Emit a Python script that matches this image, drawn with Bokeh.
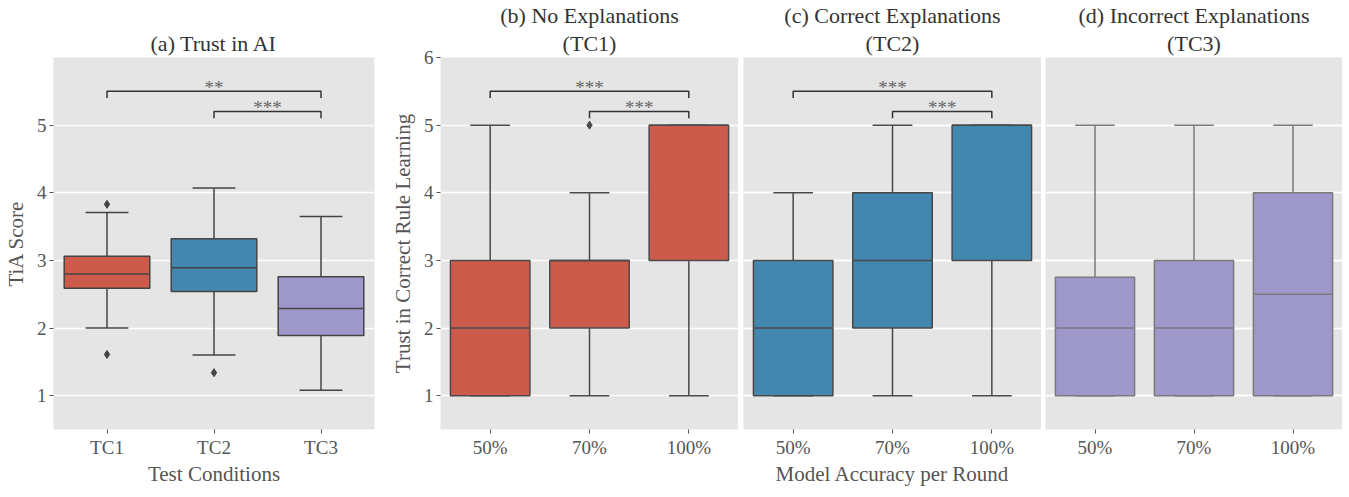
from bokeh.plotting import figure
from bokeh.models import Range1d, FixedTicker, Grid, Title
from bokeh.layouts import row
from bokeh.embed import file_html
from bokeh.resources import INLINE
from bokeh.core.properties import value

# ---------------- data ----------------
a_cats = ["TC1", "TC2", "TC3"]
a_q1 = [2.59, 2.54, 1.89]
a_med = [2.80, 2.89, 2.29]
a_q3 = [3.06, 3.32, 2.76]
a_lo = [2.00, 1.60, 1.08]
a_hi = [3.71, 4.07, 3.65]
a_out_cat = ["TC1", "TC1", "TC2"]
a_out_val = [3.83, 1.61, 1.34]

acc_cats = ["50%", "70%", "100%"]
b_q1 = [1, 2, 3]
b_med = [2, 3, 5]
b_q3 = [3, 3, 5]
b_lo = [1, 1, 1]
b_hi = [5, 4, 5]
b_out_cat = ["70%"]
b_out_val = [5]

c_q1 = [1, 2, 3]
c_med = [2, 3, 5]
c_q3 = [3, 4, 5]
c_lo = [1, 1, 1]
c_hi = [4, 5, 5]

d_q1 = [1, 1, 1]
d_med = [2, 2, 2.5]
d_q3 = [2.75, 3, 4]
d_lo = [1, 1, 1]
d_hi = [5, 5, 5]

# significance comparisons: (from, to, stars, height)
sig_a = [("TC1", "TC3", "**", 5.5), ("TC2", "TC3", "***", 5.2)]
sig_b = [("50%", "100%", "***", 5.5), ("70%", "100%", "***", 5.2)]
sig_c = [("50%", "100%", "***", 5.5), ("70%", "100%", "***", 5.2)]

titles = [" \n(a) Trust in AI", "(b) No Explanations\n(TC1)",
          "(c) Correct Explanations\n(TC2)", "(d) Incorrect Explanations\n(TC3)"]

# ---------------- style ----------------
FONT = "Liberation Serif"
RED, BLUE, PURPLE = "#CD5B4B", "#4487AE", "#9E98CA"
BG = "#E5E5E5"
TXT = "#555555"
FRAME_H = 372
Y0, Y1 = 0.5, 6.0
PXU = FRAME_H / (Y1 - Y0)


def make_fig(frame_w, left, right, yticks, ylabel, xlabel, cats, show_y, title):
    lines = title.split("\n")
    p = figure(frame_width=frame_w, frame_height=FRAME_H,
               x_range=Range1d(-0.5, 2.5), y_range=Range1d(Y0, Y1),
               output_backend="svg", toolbar_location=None,
               y_axis_location="left" if show_y else None,
               min_border_left=left, min_border_right=right,
               min_border_top=0, min_border_bottom=58)
    p.title.text = lines[0]
    p.title.align = "center"
    p.title.text_font = FONT
    p.title.text_font_size = "22px"
    p.title.text_font_style = "normal"
    p.title.text_color = "#333333"
    p.title.standoff = 0
    p.title.offset = 0
    p.add_layout(Title(text=lines[1], align="center", text_font=FONT,
                       text_font_size="22px", text_font_style="normal",
                       text_color="#333333", standoff=3), "above")
    p.background_fill_color = BG
    p.border_fill_color = "white"
    p.outline_line_color = None
    p.xgrid.visible = False
    p.xaxis.ticker = FixedTicker(ticks=[0, 1, 2])
    p.xaxis.major_label_overrides = {i: c for i, c in enumerate(cats)}
    axes = list(p.xaxis) + (list(p.yaxis) if show_y else [])
    for ax in axes:
        ax.axis_line_color = None
        ax.major_tick_in = 0
        ax.major_tick_out = 4
        ax.major_tick_line_color = TXT
        ax.minor_tick_line_color = None
        ax.major_label_text_font = FONT
        ax.major_label_text_font_size = "19px"
        ax.major_label_text_color = TXT
        ax.major_label_standoff = 3
        ax.axis_label_text_font = FONT
        ax.axis_label_text_font_size = "21px"
        ax.axis_label_text_font_style = "normal"
        ax.axis_label_text_color = TXT
    p.xaxis.axis_label = xlabel
    p.xaxis.axis_label_standoff = 1
    if show_y:
        p.yaxis.ticker = FixedTicker(ticks=yticks)
        p.yaxis.axis_label = ylabel
        p.yaxis.axis_label_standoff = 6
        p.ygrid.ticker = FixedTicker(ticks=yticks)
    else:
        p.add_layout(Grid(dimension=1, ticker=FixedTicker(ticks=[1, 2, 3, 4, 5, 6])))
    for g in p.ygrid:
        g.grid_line_color = "white"
        g.grid_line_width = 1.5
    return p


def draw_boxes(p, cats, q1, med, q3, lo, hi, color, edge, out_cat=(), out_val=()):
    xs = list(range(len(cats)))
    hw, cw = 0.4, 0.2
    p.segment(x0=xs, y0=q3, x1=xs, y1=hi, line_color=edge, line_width=1.5)
    p.segment(x0=xs, y0=q1, x1=xs, y1=lo, line_color=edge, line_width=1.5)
    p.segment(x0=[x - cw for x in xs], y0=hi, x1=[x + cw for x in xs], y1=hi,
              line_color=edge, line_width=1.5)
    p.segment(x0=[x - cw for x in xs], y0=lo, x1=[x + cw for x in xs], y1=lo,
              line_color=edge, line_width=1.5)
    p.quad(left=[x - hw for x in xs], right=[x + hw for x in xs], bottom=q1, top=q3,
           fill_color=color, line_color=edge, line_width=1.5)
    p.segment(x0=[x - hw for x in xs], y0=med, x1=[x + hw for x in xs], y1=med,
              line_color=edge, line_width=1.5)
    if len(out_cat):
        p.scatter(x=[cats.index(c) for c in out_cat], y=list(out_val), marker="diamond",
                  size=8, fill_color=edge, line_color=edge)


def draw_sig(p, cats, sig):
    for a, b, s, h in sig:
        x0, x1 = cats.index(a), cats.index(b)
        p.line(x=[x0, x0, x1, x1], y=[h - 0.1, h, h, h - 0.1], line_color="#333333",
               line_width=1.5)
        p.text(x=[(x0 + x1) / 2], y=[h + 4 / PXU], text=[s], text_align="center",
               text_baseline="alphabetic", text_font=value(FONT),
               text_font_size="19px", text_color="#666666")


pa = make_fig(321, 43, 8, [1, 2, 3, 4, 5], "TiA Score", "Test Conditions", a_cats, True,
              titles[0])
draw_boxes(pa, a_cats, a_q1, a_med, a_q3, a_lo, a_hi, [RED, BLUE, PURPLE], "#444444",
           a_out_cat, a_out_val)
draw_sig(pa, a_cats, sig_a)

pb = make_fig(298, 58, 0, [1, 2, 3, 4, 5, 6], "Trust in Correct Rule Learning", None,
              acc_cats, True, titles[1])
draw_boxes(pb, acc_cats, b_q1, b_med, b_q3, b_lo, b_hi, RED, "#4a4a4a", b_out_cat, b_out_val)
draw_sig(pb, acc_cats, sig_b)

pc = make_fig(298, 5, 0, None, None, "Model Accuracy per Round", acc_cats, False, titles[2])
draw_boxes(pc, acc_cats, c_q1, c_med, c_q3, c_lo, c_hi, BLUE, "#484848")
draw_sig(pc, acc_cats, sig_c)

pd_ = make_fig(297, 4, 0, None, None, None, acc_cats, False, titles[3])
draw_boxes(pd_, acc_cats, d_q1, d_med, d_q3, d_lo, d_hi, PURPLE, "#7a7a7a")

layout = row(pa, pb, pc, pd_, spacing=0)
open("out.html", "w").write(file_html(layout, INLINE))
